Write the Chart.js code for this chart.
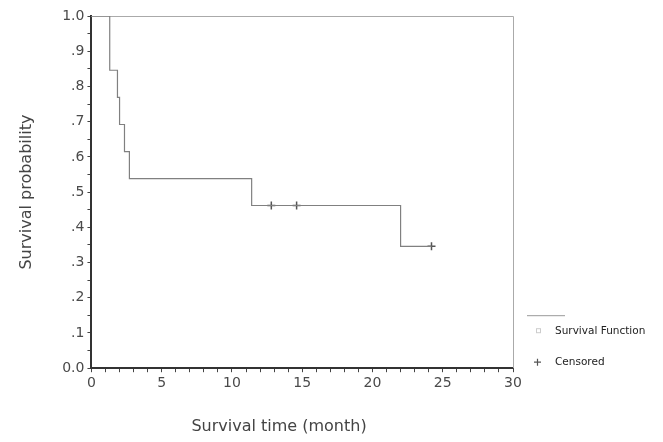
<!DOCTYPE html>
<html lang="en">
<head>
<meta charset="UTF-8">
<title>Survival curve</title>
<script src="https://cdn.jsdelivr.net/npm/chart.js"></script>
<style>
  body { margin: 0; background: #fff; }
  #wrap { width: 663px; height: 442px; }
</style>
</head>
<body>
<div id="wrap"><canvas id="km" width="663" height="442"></canvas></div>
<script>
// Kaplan-Meier steps (time in months, survival probability)
const eventTimes = [0, 1.3, 1.85, 2.0, 2.35, 2.7, 11.4, 22.0, 24.2];
const survival   = [1.0, 0.846, 0.769, 0.692, 0.615, 0.538, 0.462, 0.346, 0.346];

// censored observations
const censorTimes = [12.8, 14.6, 24.2];
const censorSurv  = [0.462, 0.462, 0.346];

const seriesNames = ['Survival Function', 'Censored'];
const xTitle = 'Survival time (month)';

// light frame on top and right of the plot
const framePlugin = {
  id: 'frame',
  beforeDatasetsDraw(chart) {
    const a = chart.chartArea, c = chart.ctx;
    c.save();
    c.strokeStyle = '#aaa';
    c.lineWidth = 1;
    c.beginPath();
    c.moveTo(a.left, a.top + 0.5);
    c.lineTo(a.right + 0.5, a.top + 0.5);
    c.lineTo(a.right + 0.5, a.bottom);
    c.stroke();
    c.restore();
  }
};

// SPSS-like legend in the lower right corner, and the x title (sits a bit left of centre)
const legendPlugin = {
  id: 'kmLegend',
  afterDraw(chart) {
    const a = chart.chartArea, c = chart.ctx;
    const x0 = a.right;
    c.save();
    // line sample
    c.strokeStyle = '#999';
    c.lineWidth = 1;
    c.beginPath();
    c.moveTo(x0 + 14, a.bottom - 52.5);
    c.lineTo(x0 + 52, a.bottom - 52.5);
    c.stroke();
    // faint marker of the survival function
    c.strokeStyle = '#ccc';
    c.strokeRect(x0 + 23.5, a.bottom - 39.5, 4, 4);
    // cross of censored
    c.strokeStyle = '#555';
    c.lineWidth = 1.2;
    c.beginPath();
    c.moveTo(x0 + 21, a.bottom - 6);
    c.lineTo(x0 + 28, a.bottom - 6);
    c.moveTo(x0 + 24.5, a.bottom - 9.5);
    c.lineTo(x0 + 24.5, a.bottom - 2.5);
    c.stroke();
    c.fillStyle = '#222';
    c.font = '10.5px "DejaVu Sans"';
    c.textBaseline = 'middle';
    c.fillText(seriesNames[0], x0 + 42, a.bottom - 37);
    c.fillText(seriesNames[1], x0 + 42, a.bottom - 6);
    // x axis title
    c.fillStyle = '#444';
    c.font = '16px "DejaVu Sans"';
    c.textAlign = 'center';
    c.fillText(xTitle, a.left + a.width * 0.445, a.bottom + 59);
    c.restore();
  }
};

const ctx = document.getElementById('km');
const chart = new Chart(ctx, {
  type: 'line',
  data: {
    datasets: [{
      label: seriesNames[0],
      data: eventTimes.map((t, i) => ({ x: t, y: survival[i] })),
      borderColor: '#808080',
      borderWidth: 1.2,
      stepped: true,
      pointRadius: 0,
      fill: false
    }, {
      label: seriesNames[1],
      type: 'scatter',
      data: censorTimes.map((t, i) => ({ x: t, y: censorSurv[i] })),
      pointStyle: 'cross',
      pointRadius: 4,
      borderColor: '#555',
      borderWidth: 1.5,
      showLine: false
    }]
  },
  options: {
    responsive: false,
    animation: false,
    layout: { padding: { left: 17, right: 150, top: 16, bottom: 47 } },
    plugins: {
      tooltip: { enabled: false },
      legend: { display: false }
    },
    scales: {
      x: {
        type: 'linear',
        min: 0,
        max: 30,
        border: { color: '#333', width: 2 },
        grid: { drawOnChartArea: false, tickLength: 4, color: '#444' },
        ticks: {
          stepSize: 1,
          autoSkip: false,
          maxRotation: 0,
          color: '#4a4a4a',
          font: { family: 'DejaVu Sans', size: 14 },
          callback: v => (v % 5 === 0 ? String(v) : '')
        }
      },
      y: {
        min: 0,
        max: 1,
        border: { color: '#333', width: 2 },
        grid: { drawOnChartArea: false, tickLength: 4, color: '#444' },
        ticks: {
          stepSize: 0.05,
          autoSkip: false,
          color: '#4a4a4a',
          font: { family: 'DejaVu Sans', size: 14 },
          callback: (v, i) => {
            if (i % 2 !== 0) return '';
            const n = Math.round(v * 10);
            if (n === 0) return '0.0';
            if (n === 10) return '1.0';
            return '.' + n;
          }
        },
        title: {
          display: true,
          text: 'Survival probability',
          color: '#444',
          font: { family: 'DejaVu Sans', size: 16 },
          padding: { top: 0, bottom: 23 }
        }
      }
    }
  },
  plugins: [framePlugin, legendPlugin]
});
</script>
</body>
</html>
